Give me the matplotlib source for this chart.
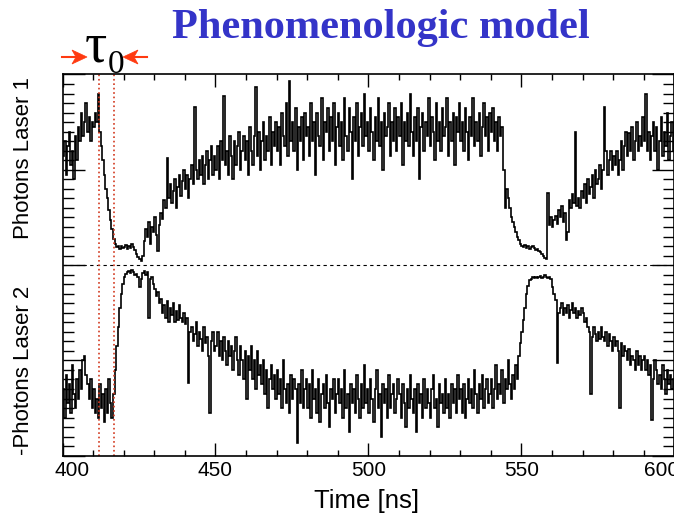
import numpy as np
import matplotlib
matplotlib.use("Agg")
import matplotlib.pyplot as plt
import matplotlib.transforms as mtransforms
from matplotlib.patches import Polygon
from matplotlib.lines import Line2D
from matplotlib.ticker import MultipleLocator

W, H = 674, 514

# time bins (ns), 0.5 ns wide
edges = np.arange(400, 600.001, 0.5)

# photons laser 1 (arbitrary units), 20 bins per row = 10 ns
laser1 = [
    1.15, 1.3, 0.95, 1.25, 1.4, 1.05, 1.2, 0.9, 1.35, 1.1, 1.45, 1.3, 1.6, 1.35, 1.5, 1.7, 1.4, 1.55, 1.3, 1.5,
    1.45, 1.6, 1.5, 1.8, 1.4, 1.25, 1.1, 0.95, 0.8, 0.7, 0.58, 0.47, 0.38, 0.27, 0.22, 0.19, 0.2, 0.17, 0.2, 0.18,
    0.19, 0.21, 0.17, 0.2, 0.18, 0.22, 0.19, 0.16, 0.12, 0.08, 0.06, 0.04, 0.1, 0.25, 0.38, 0.3, 0.45, 0.22, 0.4, 0.35,
    0.5, 0.32, 0.15, 0.42, 0.55, 0.48, 0.68, 0.6, 1.12, 0.7, 0.85, 0.65, 0.78, 0.9, 0.6, 0.82, 0.95, 0.72, 0.88, 1.0,
    0.8, 0.95, 0.7, 0.9, 1.05, 0.85, 1.66, 1.0, 0.9, 1.1, 0.95, 1.15, 0.85, 1.05, 1.2, 0.9, 1.1, 1.25, 0.95, 1.15,
    1.0, 1.25, 0.9, 1.3, 1.1, 1.77, 1.05, 1.2, 0.95, 1.35, 1.15, 0.9, 1.3, 1.05, 1.25, 1.4, 1.0, 1.2, 1.35, 1.1,
    1.3, 0.95, 1.45, 1.2, 1.05, 1.35, 1.87, 1.15, 1.4, 1.0, 1.3, 1.5, 1.1, 1.35, 1.2, 1.55, 1.05, 1.4, 1.25, 1.5,
    1.2, 1.45, 1.05, 1.6, 1.35, 1.25, 1.7, 1.15, 1.93, 1.3, 1.5, 1.2, 1.65, 1.0, 1.45, 1.3, 1.55, 1.1, 1.6, 1.35,
    1.45, 1.15, 1.7, 1.3, 1.5, 0.95, 1.6, 1.35, 1.25, 1.75, 1.1, 1.5, 1.4, 1.65, 1.2, 1.55, 1.3, 1.7, 1.05, 1.45,
    1.6, 1.25, 1.5, 1.1, 1.75, 1.35, 1.2, 1.65, 1.4, 0.9, 1.55, 1.3, 1.7, 1.15, 1.45, 1.6, 1.25, 1.8, 1.35, 1.5,
    1.2, 1.65, 1.4, 1.1, 1.55, 1.3, 1.75, 1.25, 1.5, 1.0, 1.6, 1.35, 1.45, 1.7, 1.15, 1.5, 1.3, 1.65, 1.2, 1.55,
    1.35, 1.7, 1.05, 1.5, 1.3, 1.6, 1.25, 1.8, 1.4, 1.15, 1.55, 1.3, 1.65, 0.9, 1.45, 1.6, 1.2, 1.5, 1.35, 1.75,
    1.25, 1.55, 1.4, 1.1, 1.7, 1.3, 1.5, 1.2, 1.65, 1.35, 1.45, 1.75, 1.15, 1.5, 1.3, 1.6, 1.05, 1.55, 1.4, 1.7,
    1.3, 1.5, 1.2, 1.65, 1.4, 1.1, 1.55, 1.35, 1.75, 1.25, 1.5, 1.3, 1.6, 1.15, 1.45, 1.7, 1.35, 1.55, 1.2, 1.6,
    1.4, 1.65, 1.3, 1.5, 1.2, 1.55, 1.35, 1.45, 1.0, 0.6, 0.8, 0.7, 0.6, 0.5, 0.45, 0.4, 0.35, 0.3, 0.26, 0.22,
    0.2, 0.19, 0.21, 0.18, 0.2, 0.17, 0.19, 0.2, 0.18, 0.16, 0.17, 0.15, 0.14, 0.12, 0.1, 0.07, 0.06, 0.76, 0.42, 0.5,
    0.4, 0.47, 0.52, 0.43, 0.58, 0.5, 0.62, 0.45, 0.55, 0.26, 0.35, 0.68, 0.6, 0.75, 0.65, 1.4, 0.62, 0.7, 0.6, 0.78,
    0.7, 0.85, 0.65, 0.9, 0.75, 0.82, 0.95, 0.7, 1.0, 0.85, 0.9, 1.05, 0.8, 1.0, 1.66, 1.2, 0.95, 1.1, 1.2, 1.0,
    1.15, 1.05, 1.2, 0.95, 1.1, 1.3, 1.0, 1.25, 1.4, 1.15, 1.39, 1.2, 1.45, 1.1, 1.3, 1.5, 1.2, 1.35, 1.25, 1.55,
    1.3, 1.8, 1.2, 1.4, 1.1, 1.35, 1.5, 1.2, 1.45, 1.0, 1.3, 1.55, 1.15, 1.4, 1.25, 1.6, 1.1, 1.35, 1.5, 1.2,
]

# photons laser 2 (drawn negated), same binning
laser2 = [
    1.3, 1.6, 1.15, 1.45, 1.25, 1.55, 1.05, 1.35, 1.5, 1.2, 1.4, 1.1, 1.3, 1.0, 0.95, 1.15, 1.25, 1.4, 1.2, 1.5,
    1.3, 1.55, 1.4, 1.6, 1.25, 1.5, 1.35, 1.65, 1.3, 1.55, 1.2, 1.45, 1.6, 1.35, 1.1, 0.85, 0.65, 0.45, 0.3, 0.2,
    0.12, 0.09, 0.07, 0.06, 0.08, 0.05, 0.07, 0.1, 0.09, 0.12, 0.23, 0.15, 0.08, 0.06, 0.1, 0.07, 0.55, 0.15, 0.12, 0.2,
    0.25, 0.32, 0.28, 0.4, 0.36, 0.5, 0.42, 0.55, 0.38, 0.6, 0.45, 0.52, 0.4, 0.6, 0.48, 0.58, 0.42, 0.55, 0.6, 0.5,
    0.62, 0.55, 1.24, 0.7, 0.65, 0.8, 0.72, 0.6, 0.85, 0.7, 0.78, 0.9, 0.65, 0.82, 0.75, 0.95, 1.55, 0.8, 0.7, 0.9,
    0.85, 0.7, 0.95, 0.8, 1.0, 0.75, 0.9, 1.05, 0.8, 0.95, 0.85, 1.1, 0.9, 0.75, 1.0, 1.15, 0.85, 1.0, 1.2, 0.9,
    1.4, 0.95, 1.1, 0.85, 1.2, 1.0, 1.3, 0.9, 1.15, 1.05, 1.25, 1.0, 1.35, 1.1, 1.5, 1.2, 1.05, 1.3, 1.15, 1.4,
    1.1, 1.35, 1.2, 1.5, 1.0, 1.3, 1.45, 1.25, 1.55, 1.15, 1.4, 1.2, 1.3, 1.87, 1.25, 1.45, 1.1, 1.5, 1.3, 1.2,
    1.5, 1.25, 1.6, 1.1, 1.4, 1.3, 1.55, 1.2, 1.65, 1.35, 1.25, 1.5, 1.15, 1.45, 1.7, 1.3, 1.4, 1.2, 1.55, 1.35,
    1.2, 1.45, 1.3, 1.6, 1.1, 1.5, 1.35, 1.75, 1.25, 1.45, 1.3, 1.55, 1.15, 1.4, 1.6, 1.25, 1.5, 1.05, 1.45, 1.3,
    1.55, 1.2, 1.4, 1.65, 1.3, 1.1, 1.5, 1.35, 1.8, 1.25, 1.45, 1.3, 1.6, 1.15, 1.5, 1.35, 1.25, 1.55, 1.4, 1.2,
    1.35, 1.6, 1.25, 1.45, 1.7, 1.3, 1.5, 1.15, 1.4, 1.55, 1.3, 1.75, 1.25, 1.45, 1.35, 1.6, 1.2, 1.5, 1.3, 1.45,
    1.6, 1.3, 1.15, 1.5, 1.4, 1.7, 1.25, 1.45, 1.35, 1.55, 1.2, 1.5, 1.35, 1.6, 1.25, 1.45, 1.3, 1.55, 1.15, 1.4,
    1.3, 1.55, 1.25, 1.6, 1.4, 1.2, 1.45, 1.3, 1.5, 1.1, 1.35, 1.55, 1.25, 1.4, 1.15, 1.5, 1.3, 1.2, 1.45, 1.35,
    1.2, 1.5, 1.3, 1.05, 1.4, 1.25, 1.35, 1.1, 1.45, 1.2, 1.3, 1.0, 1.25, 1.4, 1.15, 1.3, 1.05, 1.2, 0.95, 0.82,
    0.7, 0.58, 0.45, 0.3, 0.22, 0.16, 0.15, 0.13, 0.14, 0.12, 0.14, 0.13, 0.11, 0.14, 0.12, 0.1, 0.13, 0.14, 0.12, 0.15,
    0.23, 0.3, 0.37, 1.03, 0.5, 0.45, 0.4, 0.52, 0.45, 0.5, 0.42, 0.55, 0.47, 0.4, 0.5, 0.45, 0.55, 0.48, 0.52, 0.45,
    0.5, 0.6, 0.55, 0.65, 0.7, 1.35, 0.75, 0.65, 0.72, 0.8, 0.7, 0.78, 0.65, 0.75, 0.8, 0.7, 0.85, 0.72, 0.8, 0.9,
    0.75, 0.85, 0.8, 0.9, 1.5, 0.82, 0.95, 0.85, 0.9, 1.0, 0.88, 1.05, 0.95, 1.0, 1.1, 0.9, 1.05, 0.95, 1.1, 1.0,
    0.95, 1.1, 1.0, 1.15, 1.05, 1.63, 1.2, 1.0, 1.1, 1.25, 1.15, 1.3, 1.05, 1.2, 1.35, 1.1, 1.25, 1.15, 1.3, 1.2,
]

tau_lines = [411.8, 416.9]
xticks = [400, 450, 500, 550, 600]
xticklabels = ["400", "450", "500", "550", "600"]

sans = "Liberation Sans"
serif = "Liberation Serif"
red = "#FF3A10"

fig = plt.figure(figsize=(W / 100, H / 100), dpi=100)
fig.patch.set_facecolor("white")

def fx(x):
    return x / W

def fy(y):
    return 1 - y / H

ax = fig.add_axes([fx(62.5), fy(455.7), fx(674.3 - 62.5), (455.7 - 74.5) / H])

ax.stairs(laser1, edges, baseline=None, color="black", lw=1.2)
ax.stairs(-np.array(laser2), edges, baseline=None, color="black", lw=1.2)
ax.axhline(0, color="black", lw=0.8, ls=(0, (3, 3)))
for t in tau_lines:
    ax.axvline(t, color="#D2381E", lw=1.2, ls=":")

ax.set_xlim(400, 600)
ax.set_ylim(-2, 2)
ax.xaxis.set_minor_locator(MultipleLocator(10))
ax.yaxis.set_major_locator(MultipleLocator(1))
ax.yaxis.set_minor_locator(MultipleLocator(0.1))
ax.set_xticks(xticks)
ax.set_xticklabels(xticklabels, fontsize=15, family=sans)
ax.set_yticklabels([])
ax.tick_params(axis="x", which="both", direction="in", top=True, bottom=True, width=1.0, pad=4)
ax.tick_params(axis="x", which="major", length=9.4)
ax.tick_params(axis="x", which="minor", length=4.6)
ax.tick_params(axis="y", which="both", direction="in", left=True, right=True, width=1.0)
ax.tick_params(axis="y", which="major", length=16)
ax.tick_params(axis="y", which="minor", length=8)
for s in ax.spines.values():
    s.set_linewidth(1.2)

labs = ax.get_xticklabels()
labs[0].set_transform(labs[0].get_transform() + mtransforms.ScaledTranslation(10 / 100, 0, fig.dpi_scale_trans))
labs[-1].set_transform(labs[-1].get_transform() + mtransforms.ScaledTranslation(-13 / 100, 0, fig.dpi_scale_trans))

fig.text(fx(367), fy(508), "Time [ns]", ha="center", va="baseline", fontsize=18.5, family=sans)
fig.text(fx(24), fy(158), "Photons Laser 1", ha="center", va="center", rotation=90, fontsize=16, family=sans)
fig.text(fx(24), fy(370), "-Photons Laser 2", ha="center", va="center", rotation=90, fontsize=16, family=sans)

fig.text(fx(381), fy(38), "Phenomenologic model", ha="center", va="baseline",
         fontsize=30.5, fontweight="bold", family=serif, color="#3434C8")

# tau_0 marker with two arrows pointing at it
fig.text(fx(85), fy(62), "τ", ha="left", va="baseline", fontsize=40, family=serif)
fig.text(fx(108), fy(73), "0", ha="left", va="baseline", fontsize=24, family=serif)


def draw_arrow(tail, tip, y):
    s = 1 if tip > tail else -1
    head, half, notch = 15, 7, 4
    pts = [(tip, y), (tip - s * head, y - half), (tip - s * (head - notch), y), (tip - s * head, y + half)]
    fig.add_artist(Polygon([(fx(a), fy(b)) for a, b in pts], closed=True, transform=fig.transFigure,
                           facecolor=red, edgecolor=red, lw=0.5))
    fig.add_artist(Line2D([fx(tail), fx(tip - s * (head - notch))], [fy(y), fy(y)],
                          transform=fig.transFigure, color=red, lw=1.5))


draw_arrow(62, 87, 57)
draw_arrow(147, 123, 57)

fig.savefig("out.png", dpi=100)
